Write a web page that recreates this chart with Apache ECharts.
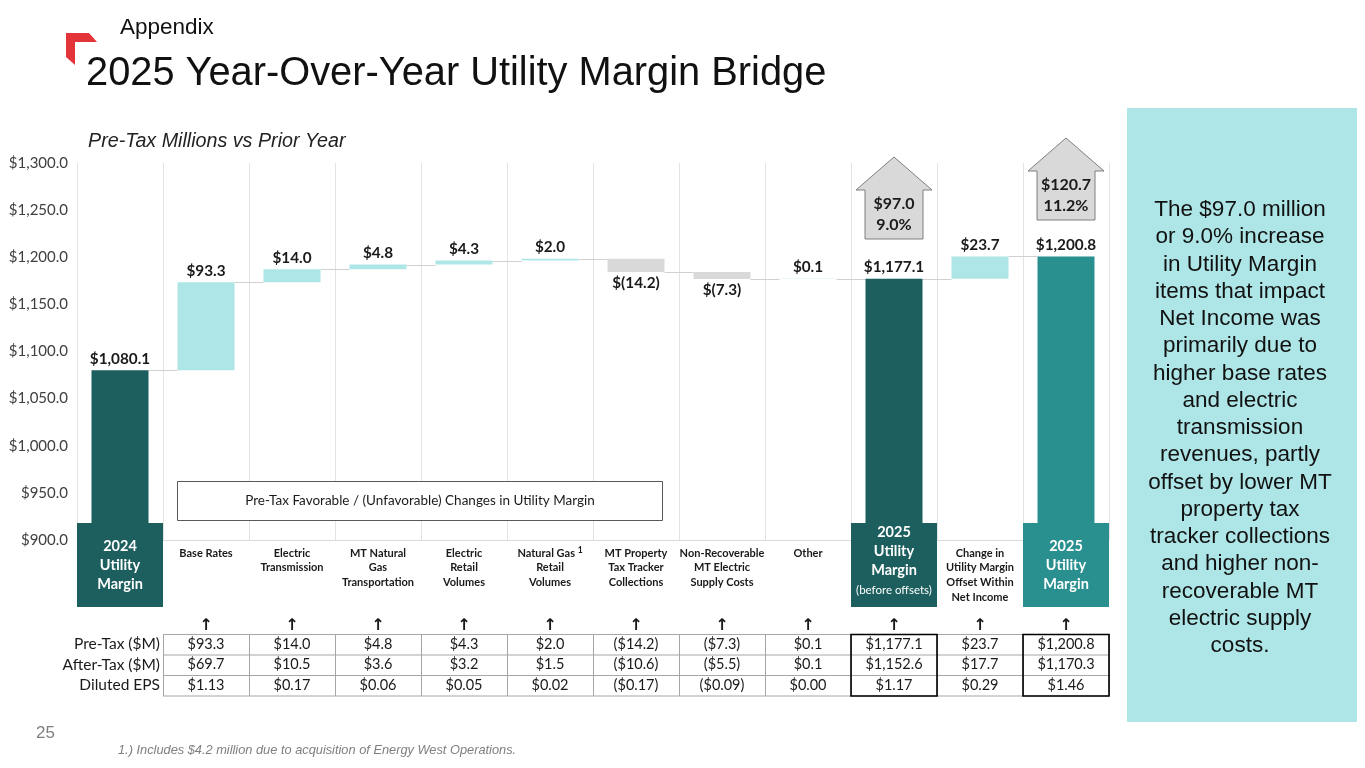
<!DOCTYPE html>
<html><head><meta charset="utf-8">
<script src="https://cdn.jsdelivr.net/npm/echarts@6/dist/echarts.min.js"></script>
<style>html,body{margin:0;padding:0;background:#fff;}#c{width:1365px;height:768px;}</style>
</head><body><div id="c"></div>
<script>
// ---------------- DATA ----------------
const categories = ['2024 Utility Margin','Base Rates','Electric Transmission','MT Natural Gas Transportation','Electric Retail Volumes','Natural Gas Retail Volumes','MT Property Tax Tracker Collections','Non-Recoverable MT Electric Supply Costs','Other','2025 Utility Margin (before offsets)','Change in Utility Margin Offset Within Net Income','2025 Utility Margin'];
const axisText = ['', 'Base Rates', 'Electric\nTransmission', 'MT Natural\nGas\nTransportation', 'Electric\nRetail\nVolumes', 'Natural Gas {sup|1}\nRetail\nVolumes', 'MT Property\nTax Tracker\nCollections', 'Non-Recoverable\nMT Electric\nSupply Costs', 'Other', '', 'Change in\nUtility Margin\nOffset Within\nNet Income', ''];
const boxText = ['{b|2024}\n{b|Utility}\n{b|Margin}', '', '', '', '', '', '', '', '', '{b|2025}\n{b|Utility}\n{b|Margin}\n{s|(before offsets)}', '', '{b|2025}\n{b|Utility}\n{b|Margin}'];
const changes = [null, 93.3, 14.0, 4.8, 4.3, 2.0, -14.2, -7.3, 0.1, null, 23.7, null];
const totals  = [1080.1, null, null, null, null, null, null, null, null, 1177.1, null, 1200.8];
const yMin = 900, yMax = 1300, yStep = 50;
const tableRows = ['Pre-Tax ($M)', 'After-Tax ($M)', 'Diluted EPS'];
const preTax   = ['$93.3','$14.0','$4.8','$4.3','$2.0','($14.2)','($7.3)','$0.1','$1,177.1','$23.7','$1,200.8'];
const afterTax = ['$69.7','$10.5','$3.6','$3.2','$1.5','($10.6)','($5.5)','$0.1','$1,152.6','$17.7','$1,170.3'];
const dilutedEps = ['$1.13','$0.17','$0.06','$0.05','$0.02','($0.17)','($0.09)','$0.00','$1.17','$0.29','$1.46'];
const growthArrows = [{cat: 9, amount: '$97.0', pct: '9.0%'}, {cat: 11, amount: '$120.7', pct: '11.2%'}];
const sideNote = 'The $97.0 million\nor 9.0% increase\nin Utility Margin\nitems that impact\nNet Income was\nprimarily due to\nhigher base rates\nand electric\ntransmission\nrevenues, partly\noffset by lower MT\nproperty tax\ntracker collections\nand higher non-\nrecoverable MT\nelectric supply\ncosts.';

// ---------------- STYLE ----------------
const DARK = '#1D5E5E', TEAL = '#2A8F8F', UP = '#AEE5E6', DOWN = '#D9D9D9';
const totalColors = {0: DARK, 9: DARK, 11: TEAL};
const CAL = 'Lato, "Open Sans", sans-serif';
const ARIAL = '"Liberation Sans", Arial, sans-serif';

// ---------------- WATERFALL PLUMBING ----------------
const fmt = v => '$' + v.toLocaleString('en-US', {minimumFractionDigits: 1, maximumFractionDigits: 1});
let level = 0;
const baseData = [], upData = [], downData = [], totalData = [], connData = [];
categories.forEach((c, i) => {
  if (totals[i] != null) {
    level = totals[i];
    baseData.push('-'); upData.push('-'); downData.push('-');
    totalData.push({value: totals[i], itemStyle: {color: totalColors[i]}});
  } else {
    const d = changes[i];
    const nl = level + d;
    baseData.push(+Math.min(level, nl).toFixed(2));
    if (d >= 0) { upData.push(d); downData.push('-'); }
    else { upData.push('-'); downData.push(-d); }
    totalData.push('-');
    level = nl;
  }
  if (i < categories.length - 1) connData.push([i, +level.toFixed(2)]);
});

const chart = echarts.init(document.getElementById('c'));
const BARW = 57;
const lblStyle = {fontFamily: CAL, fontWeight: 'bold', fontSize: 15.3, color: '#1a1a1a'};

const boxItems = categories.map((c, i) => {
  if (!boxText[i]) return c;
  const bg = totalColors[i];
  const pad = i === 9 ? [0, 0, 6, 0] : [14, 0, 13, 0];
  return {value: c, textStyle: {backgroundColor: bg, width: 86, padding: pad}};
});

const option = {
  animation: false,
  backgroundColor: '#fff',
  grid: {left: 77, right: 256, top: 163, bottom: 228, containLabel: false},
  xAxis: [{
    type: 'category', data: categories,
    axisLine: {show: true, lineStyle: {color: '#D9D9D9'}},
    axisTick: {show: false},
    splitLine: {show: true, lineStyle: {color: '#E3E3E3', width: 1}},
    axisLabel: {
      interval: 0, margin: 6, fontFamily: CAL, fontWeight: 'bold', fontSize: 11, lineHeight: 14.6, color: '#1a1a1a',
      formatter: (v, i) => axisText[i],
      rich: {sup: {fontSize: 8.5, fontWeight: 'bold', fontFamily: CAL, padding: [0, 0, 7, 0], color: '#1a1a1a'}}
    }
  }, {
    type: 'category', data: boxItems, position: 'bottom', z: 10,
    axisLine: {show: false}, axisTick: {show: false}, splitLine: {show: false},
    axisLabel: {
      interval: 0, margin: -17, verticalAlign: 'top', color: '#fff',
      formatter: (v, i) => boxText[i],
      rich: {
        b: {fontFamily: CAL, fontWeight: 'bold', fontSize: 14.5, lineHeight: 19, color: '#fff'},
        s: {fontFamily: CAL, fontSize: 11.5, lineHeight: 21, color: '#fff'}
      }
    }
  }],
  yAxis: {
    type: 'value', min: yMin, max: yMax, interval: yStep,
    axisLine: {show: false}, axisTick: {show: false}, splitLine: {show: false},
    axisLabel: {margin: 9, fontFamily: CAL, fontSize: 15, color: '#404040', formatter: v => fmt(v)}
  },
  series: [
    {name: 'base', type: 'bar', stack: 'w', barWidth: BARW, data: baseData,
     itemStyle: {color: 'rgba(0,0,0,0)'}, emphasis: {disabled: true}, silent: true},
    {name: 'increase', type: 'bar', stack: 'w', barWidth: BARW, data: upData, itemStyle: {color: UP},
     label: {show: true, position: 'top', distance: 4, ...lblStyle, formatter: p => fmt(p.value)}},
    {name: 'decrease', type: 'bar', stack: 'w', barWidth: BARW, data: downData, itemStyle: {color: DOWN},
     label: {show: true, position: 'bottom', distance: 4, ...lblStyle, formatter: p => '$(' + p.value.toFixed(1) + ')'}},
    {name: 'total', type: 'bar', barWidth: BARW, barGap: '-100%', data: totalData,
     label: {show: true, position: 'top', distance: 4, ...lblStyle, formatter: p => fmt(p.value)}},
    {name: 'connector', type: 'custom', data: connData, z: 1, silent: true,
     renderItem: (params, api) => {
       const i = api.value(0), v = api.value(1);
       const a = api.coord([i, v]), b = api.coord([i + 1, v]);
       const y = Math.round(a[1]) + 0.5;
       return {type: 'line', shape: {x1: a[0] + BARW / 2, y1: y, x2: b[0] - BARW / 2, y2: y},
               style: {stroke: '#D0D0D0', lineWidth: 1}};
     }}
  ]
};
chart.setOption(option);

// ---------------- ANNOTATIONS / TABLE ----------------
const cx = i => chart.convertToPixel({xAxisIndex: 0}, i);
const halfW = (cx(1) - cx(0)) / 2;
const g = [];
// header
g.push({type: 'polygon', shape: {points: [[66,33],[89,33],[97,42],[75,42],[75,65],[66,57]]}, style: {fill: '#E3343A'}});
g.push({type: 'text', x: 120, y: 28, style: {text: 'Appendix', font: '22.5px ' + ARIAL, fill: '#111', textVerticalAlign: 'middle'}});
g.push({type: 'text', x: 86, y: 74, style: {text: '2025 Year-Over-Year Utility Margin Bridge', font: '39.8px ' + ARIAL, fill: '#111', textVerticalAlign: 'middle'}});
g.push({type: 'text', x: 88, y: 142, style: {text: 'Pre-Tax Millions vs Prior Year', font: 'italic 19.7px ' + ARIAL, fill: '#222', textVerticalAlign: 'middle'}});
// side panel
g.push({type: 'rect', shape: {x: 1127, y: 108, width: 230, height: 614}, style: {fill: UP}});
g.push({type: 'text', x: 1240, y: 428, style: {text: sideNote, font: '22.5px ' + ARIAL, lineHeight: 27.25, fill: '#111', textAlign: 'center', textVerticalAlign: 'middle'}});
// caption box
g.push({type: 'rect', shape: {x: 177.5, y: 481.5, width: 485, height: 39}, style: {fill: '#fff', stroke: '#595959', lineWidth: 1}, z: 5});
g.push({type: 'text', x: 420, y: 501, z: 6, style: {text: 'Pre-Tax Favorable / (Unfavorable) Changes in Utility Margin', font: '13.5px ' + CAL, fill: '#1a1a1a', textAlign: 'center', textVerticalAlign: 'middle'}});
// growth arrows
growthArrows.forEach(a => {
  const x = cx(a.cat);
  const top = a.cat === 9 ? 157 : 138;
  const sh = top + 33, bot = top + 82;
  g.push({type: 'polygon', z: 5, shape: {points: [[x, top], [x + 38, sh], [x + 29, sh], [x + 29, bot], [x - 29, bot], [x - 29, sh], [x - 38, sh]]},
          style: {fill: '#D9D9D9', stroke: '#7F7F7F', lineWidth: 1}});
  g.push({type: 'text', z: 6, x: x, y: sh + 24, style: {text: a.amount + '\n' + a.pct, font: 'bold 16px ' + CAL, lineHeight: 21, fill: '#1a1a1a', textAlign: 'center', textVerticalAlign: 'middle'}});
});
// table
const rowsY = [634.5, 655, 675.5, 696];
const tableData = [preTax, afterTax, dilutedEps];
const colL = cx(1) - halfW, colR = cx(11) + halfW;
rowsY.forEach(y => g.push({type: 'line', shape: {x1: colL, y1: y, x2: colR, y2: y}, style: {stroke: '#A6A6A6', lineWidth: 1}}));
for (let c = 1; c <= 12; c++) {
  const x = Math.round(cx(c) - halfW) + 0.5;
  g.push({type: 'line', shape: {x1: x, y1: rowsY[0], x2: x, y2: rowsY[3]}, style: {stroke: '#A6A6A6', lineWidth: 1}});
}
tableRows.forEach((r, ri) => {
  const yc = (rowsY[ri] + rowsY[ri + 1]) / 2 - 0.5;
  g.push({type: 'text', x: colL - 3, y: yc, style: {text: r, font: '15.5px ' + CAL, fill: '#1a1a1a', textAlign: 'right', textVerticalAlign: 'middle'}});
  tableData[ri].forEach((t, k) => {
    g.push({type: 'text', x: cx(k + 1), y: yc, style: {text: t, font: '14.5px ' + CAL, fill: '#1a1a1a', textAlign: 'center', textVerticalAlign: 'middle'}});
  });
});
for (let k = 1; k <= 11; k++) {
  g.push({type: 'text', x: cx(k), y: 626, style: {text: '\u2191', font: 'bold 16px "DejaVu Sans"', fill: '#1a1a1a', textAlign: 'center', textVerticalAlign: 'middle'}});
}
[9, 11].forEach(c => g.push({type: 'rect', z: 3, shape: {x: cx(c) - halfW, y: rowsY[0], width: halfW * 2, height: rowsY[3] - rowsY[0]}, style: {fill: 'none', stroke: '#000', lineWidth: 1.6}}));
// footer
g.push({type: 'text', x: 36, y: 733, style: {text: '25', font: '17px ' + ARIAL, fill: '#7F7F7F', textVerticalAlign: 'middle'}});
g.push({type: 'text', x: 118, y: 750, style: {text: '1.) Includes $4.2 million due to acquisition of Energy West Operations.', font: 'italic 12.8px ' + ARIAL, fill: '#7F7F7F', textVerticalAlign: 'middle'}});

chart.setOption({graphic: {elements: g}});
</script>
</body></html>
